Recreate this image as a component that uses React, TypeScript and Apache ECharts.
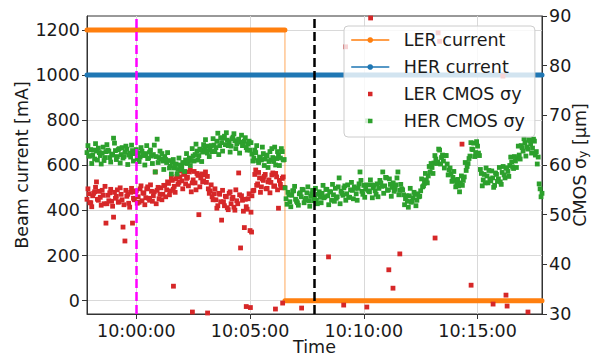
import React, { useEffect, useRef } from 'react';
import * as echarts from 'echarts';

// Time axis: seconds relative to 10:00:00.
const T_START = -130; // 09:57:50
const T_END = 1070; // 10:17:50

const TIME_TICKS = [0, 300, 600, 900];
const TIME_TICK_LABELS = ['10:00:00', '10:05:00', '10:10:00', '10:15:00'];
const CURRENT_TICKS = [0, 200, 400, 600, 800, 1000, 1200];
const SIGMA_TICKS = [30, 40, 50, 60, 70, 80, 90];

// Beam currents (mA), piecewise constant.
const LER_CURRENT_LEVELS = [
  { from: -130, to: 392, mA: 1200 },
  { from: 392, to: 1070, mA: 0 },
];
const HER_CURRENT_LEVELS = [{ from: -130, to: 1070, mA: 1000 }];

// Event markers (s)
const INJECTION_TIME = 0;
const ABORT_TIME = 470;

// CMOS vertical beam size (μm). Two interleaved readouts, each one sample
// every 5 s: the first starts at 09:57:50, the second 2.5 s later.
const SIGMA_SAMPLE_START = -130;
const SIGMA_SAMPLE_STEP = 5;
const SIGMA_SECOND_OFFSET = 2.5;

const HER_SIGMA = [
  62.5, 61.8, 63.1, 62.0, 61.2, 62.8, 63.4, 61.9, 62.4, 60.9, 62.7, 63.0, 61.5, 62.2, 65.4, 62.9, 61.7, 63.3, 62.1, 61.4, 62.6, 63.2, 62.0, 61.6, 62.9, 62.3, 63.1,
  62.4, 61.6, 62.8, 61.9, 62.3, 61.3, 62.6, 61.8, 62.1, 58.6, 65.2, 61.5,
  61.2, 60.8, 61.7, 60.5, 60.9, 59.8, 60.6, 59.4, 60.2, 59.1, 60.0, 59.6,
  60.4, 61.0, 60.3, 61.4, 60.9, 61.8,
  62.1, 62.8, 61.9, 63.0, 62.6, 63.4, 62.9, 63.8, 63.1, 62.7, 64.0, 63.5, 66.4, 63.9,
  64.5, 65.4, 64.1, 65.0, 64.7, 63.8, 65.6, 64.9, 64.3, 65.2, 64.6, 63.9, 64.8, 63.5, 64.2,
  63.0, 62.2, 61.4, 62.5, 60.9, 61.6, 61.0, 62.3, 61.2, 61.8, 60.7, 61.0, 61.5, 63.6, 61.3,
  62.0, 61.4, 62.7, 61.1,
  53.2, 54.5, 52.6, 53.9, 54.8, 53.1, 52.4, 54.2, 53.6, 55.0, 53.0, 54.4, 52.8, 53.7, 54.9, 53.3, 52.9, 54.1, 53.5,
  54.3, 53.4, 55.1, 53.8, 54.6, 52.9, 54.0, 55.3, 53.6, 57.4, 54.7, 53.9, 55.8, 54.2, 53.5, 55.0,
  54.9, 55.6, 54.2, 55.3, 58.6, 54.7, 55.9, 55.1, 68.9, 54.6, 56.0, 55.4, 54.8, 56.2,
  55.3, 56.4, 58.6, 55.8, 57.4, 55.0, 56.1, 55.5, 54.7, 56.0, 58.6, 54.9, 55.2,
  54.0, 53.2, 52.7, 53.8, 52.5, 53.4, 54.1, 52.9, 53.6,
  54.8, 55.6, 56.3, 57.0, 57.8, 58.6,
  59.5, 60.4, 61.2, 60.6, 63.0, 61.5, 60.8, 61.9,
  60.2, 59.0, 58.2, 57.5, 56.9, 56.3, 55.8,
  56.4, 55.9, 57.6, 58.9, 60.3,
  61.8, 63.2, 64.4, 62.5, 63.8, 61.9,
  58.3, 57.0, 56.4, 57.8, 58.9, 56.8, 57.4, 55.9, 58.1, 57.2, 56.6, 58.5,
  58.0, 59.4, 58.7, 59.9, 60.6, 59.3, 60.8, 61.4,
  62.0, 63.9, 62.8, 64.5, 63.6, 65.1, 64.2, 63.4, 64.8, 62.7, 61.6,
  55.2, 54.3,
];

const HER_SIGMA_SECOND = [
  63.9, 61.8, 60.3, 63.0, 64.3, 61.0, 62.5, 60.2, 63.6, 61.5, 64.1, 62.8, 60.6, 62.0, 64.4, 61.1, 63.1, 60.4, 63.5, 61.7, 63.8, 60.1, 62.4, 64.0, 60.8, 62.7, 61.3,
  60.7, 63.5, 62.2, 60.0, 63.9, 61.4, 63.0, 60.3, 64.0, 61.7, 60.5, 62.8,
  62.3, 59.1, 61.1, 62.5, 59.4, 58.2, 61.1, 60.0, 58.2, 61.4, 59.1, 60.5,
  58.7, 62.3, 61.0, 59.9, 63.3, 60.8,
  64.2, 61.0, 63.2, 60.7, 64.1, 65.1, 62.4, 61.7, 63.9, 65.3, 62.7, 64.8, 62.1, 65.5,
  62.8, 65.8, 66.5, 63.9, 62.6, 65.3, 66.3, 63.3, 64.7, 62.4, 66.0, 64.1, 65.5, 63.0, 64.8,
  64.5, 60.8, 63.0, 63.9, 60.5, 61.5, 63.6, 59.9, 62.0, 59.5, 62.7, 63.3, 60.7, 60.0, 62.7,
  59.9, 63.3, 61.0,
  55.4, 52.1, 54.0, 51.6, 54.8, 55.7, 52.7, 51.9, 54.4, 55.1, 52.4, 53.3, 55.6, 51.7, 54.2, 52.8, 55.3, 52.2, 54.6,
  52.4, 55.9, 53.6, 55.1, 52.0, 54.6, 56.1, 52.7, 53.3, 55.6, 52.2, 54.3, 55.4, 52.9, 56.0, 53.5,
  56.5, 53.2, 55.3, 52.9, 56.2, 56.9, 54.1, 53.5, 56.0, 54.8, 57.0, 53.4, 55.9, 54.1,
  53.6, 56.9, 55.7, 54.3, 57.5, 54.9, 57.2, 53.7, 56.4, 55.1, 57.4, 54.0, 56.1,
  55.0, 52.0, 53.8, 51.5, 55.3, 52.7, 54.5, 51.8, 54.2,
  53.7, 57.2, 55.8, 58.3, 56.4, 59.7,
  60.3, 58.3, 61.9, 60.3, 63.2, 60.2, 62.0, 59.4,
  61.9, 58.0, 59.4, 56.7, 58.7, 55.6, 57.1,
  54.6, 57.8, 56.9, 60.5, 59.7,
  61.3, 64.5, 63.1, 61.7, 64.7, 62.4,
  59.1, 55.8, 58.1, 59.4, 56.4, 57.2, 58.8, 55.5, 58.4, 56.7, 59.5, 56.1,
  59.7, 57.4, 59.4, 57.7, 61.6, 59.6, 61.7, 59.5,
  63.8, 61.2, 63.5, 65.3, 61.8, 63.2, 64.9, 62.4, 65.2, 62.0, 60.2,
  56.2, 53.6,
];

const LER_SIGMA = [
  53.1, 54.2, 52.4, 53.8, 54.6, 56.6, 52.9, 53.5, 54.9, 52.2, 48.3, 53.9, 54.4, 52.7, 49.5, 53.3, 55.0, 52.6, 54.1, 47.5, 44.7, 53.7, 52.3, 54.5, 48.3, 53.0, 54.8,
  53.6, 55.2, 52.8, 54.3, 53.4, 55.6, 52.9, 54.7, 53.8, 58.6, 54.9, 53.2, 55.4, 54.1, 55.9,
  55.0, 56.3, 54.8, 56.9, 55.7, 57.2, 56.1, 57.6,
  56.8, 58.1, 56.2, 57.5, 58.6, 54.6, 57.0, 56.4, 58.3, 50.0, 57.4, 56.6, 58.0,
  56.5, 55.2, 54.8, 53.6, 54.2,
  53.0, 51.8, 54.1, 48.9, 52.6, 53.7, 51.4, 54.3, 52.2, 53.5, 50.9, 52.8, 58.4,
  43.3, 52.9, 47.4, 51.6, 53.2, 46.8,
  53.8, 54.9, 59.0, 56.2, 57.4, 55.6, 56.9, 58.1, 55.3, 57.0, 56.5, 58.4, 55.8, 57.6, 51.3, 56.1, 57.3, 55.5,
];

const LER_SIGMA_SECOND = [
  55.2, 52.4, 51.6, 54.3, 55.5, 53.1, 54.7, 51.9, 53.9, 55.7, 52.2, 52.8, 55.1, 51.7, 54.5, 53.7, 52.5, 55.4, 53.0, 52.0, 54.9, 54.1, 51.5, 55.3, 53.3, 54.6, 52.3,
  52.5, 55.8, 54.4, 52.0, 55.2, 53.3, 56.0, 52.7, 54.6, 52.2, 55.5, 54.1, 53.0, 55.9, 53.6,
  56.6, 54.0, 57.5, 55.1, 54.5, 57.7, 56.5, 58.8,
  55.2, 58.4, 57.3, 55.8, 59.0, 56.4, 58.7, 55.0, 57.9, 55.6, 58.2, 56.8, 58.6,
  57.7, 54.3, 56.0, 53.0, 55.2,
  51.3, 54.3, 52.6, 54.9, 51.8, 53.6, 51.0, 54.6, 53.2, 51.5, 55.0, 52.2, 54.0,
  53.8, 50.7, 53.1, 51.1, 54.2, 50.5,
  54.8, 58.1, 55.9, 58.5, 54.5, 57.2, 57.7, 55.2, 56.6, 54.4, 58.0, 55.7, 58.3, 55.0, 56.9, 55.4, 57.6,
];

// Sporadic LER readings [s, μm]
const LER_SIGMA_OUTLIERS = [
  [98, 35.6], [148, 30.4], [188, 30.2], [290, 31.5], [301, 31.3], [304, 46.5], [367, 31.0], [386, 32.2],
  [436, 31.2], [507, 41.5], [547, 31.8], [552, 83.8], [608, 31.4], [618, 89.6], [666, 38.9], [677, 35.2],
  [695, 42.1], [788, 45.3], [796, 86.6], [800, 84.9], [859, 64.2], [883, 35.8], [941, 32.0], [967, 77.9],
  [975, 33.8], [978, 31.6], [1033, 30.4],
];

const FONT = 'DejaVu Sans';
const TEXT = '#1a1a1a';
const FRAME = '#333333';
const GRID_LINE = '#d9d9d9';
const FS = 17.5;

const ORANGE = '#ff7f0e';
const BLUE = '#1f77b4';
const RED = '#d62728';
const GREEN = '#2ca02c';

const SQUARE_ICON = 'path://M0,0M10,10M1.8,1.8h6.4v6.4h-6.4z';

type Level = { from: number; to: number; mA: number };

function levelsToLine(levels: Level[]) {
  const out: any[] = [];
  levels.forEach((seg, i) => {
    if (i > 0) out.push(['-', '-']);
    out.push([seg.from, seg.mA], [seg.to, seg.mA]);
  });
  return out;
}

function levelSteps(levels: Level[]) {
  const out: any[] = [];
  for (let i = 1; i < levels.length; i++) {
    if (out.length) out.push(['-', '-']);
    out.push([levels[i - 1].to, levels[i - 1].mA], [levels[i].from, levels[i].mA]);
  }
  return out;
}

function sampled(values: number[], offset = 0) {
  return values.map((v, i) => [SIGMA_SAMPLE_START + offset + i * SIGMA_SAMPLE_STEP, v]);
}

function timeLabel(v: number) {
  const i = TIME_TICKS.indexOf(Math.round(v));
  return i >= 0 ? TIME_TICK_LABELS[i] : '';
}

export default function App() {
  const ref = useRef<HTMLDivElement>(null);

  useEffect(() => {
    if (!ref.current) return;
    const chart = echarts.init(ref.current, undefined, { renderer: 'svg' });

    const labelStyle = { fontSize: FS, fontFamily: FONT, color: TEXT };

    chart.setOption({
      animation: false,
      backgroundColor: '#ffffff',
      grid: {
        left: 87,
        right: 51,
        top: 16,
        bottom: 42,
        containLabel: false,
        outerBoundsMode: 'none',
        show: true,
        borderColor: FRAME,
        borderWidth: 1,
        backgroundColor: 'transparent',
      },
      legend: {
        orient: 'vertical',
        left: 344,
        top: 26,
        padding: [4, 10, 6, 7],
        itemGap: 7,
        itemWidth: 37,
        itemHeight: 7,
        backgroundColor: 'rgba(255,255,255,0.8)',
        borderColor: '#cccccc',
        borderWidth: 1,
        borderRadius: 4,
        lineStyle: { width: 1.5 },
        textStyle: { ...labelStyle, lineHeight: 20, padding: [0, 0, 0, 10] },
        data: [
          { name: 'LER current' },
          { name: 'HER current' },
          { name: 'LER CMOS σy', icon: SQUARE_ICON },
          { name: 'HER CMOS σy', icon: SQUARE_ICON },
        ],
      },
      xAxis: {
        type: 'value',
        min: T_START,
        max: T_END,
        splitNumber: 4,
        name: 'Time',
        nameLocation: 'middle',
        nameGap: 24,
        nameMoveOverlap: false,
        nameTextStyle: labelStyle,
        axisLine: { show: true, onZero: false, lineStyle: { color: FRAME, width: 1 } },
        axisTick: { show: true, length: 5, customValues: TIME_TICKS, lineStyle: { color: FRAME } },
        axisLabel: {
          ...labelStyle,
          margin: 8,
          customValues: TIME_TICKS,
          formatter: timeLabel,
        },
        splitLine: { show: true, lineStyle: { color: GRID_LINE, width: 1 } },
      },
      yAxis: [
        {
          type: 'value',
          position: 'left',
          min: -59,
          max: 1262,
          splitNumber: 7,
          name: 'Beam current [mA]',
          nameLocation: 'middle',
          nameGap: 56,
          nameRotate: 90,
          nameMoveOverlap: false,
          nameTextStyle: labelStyle,
          axisLine: { show: true, onZero: false, lineStyle: { color: FRAME, width: 1 } },
          axisTick: { show: true, length: 5, customValues: CURRENT_TICKS, lineStyle: { color: FRAME } },
          axisLabel: {
            ...labelStyle,
            margin: 7,
            customValues: CURRENT_TICKS,
            formatter: (v: number) => String(Math.round(v)),
          },
          splitLine: { show: true, lineStyle: { color: GRID_LINE, width: 1 } },
        },
        {
          type: 'value',
          position: 'right',
          min: 30,
          max: 90,
          interval: 10,
          name: '{a|CMOS σ}{s|y}{a| [μm]}',
          nameLocation: 'middle',
          nameGap: 25,
          nameRotate: 90,
          nameMoveOverlap: false,
          nameTextStyle: {
            ...labelStyle,
            rich: {
              a: { ...labelStyle, lineHeight: 22, verticalAlign: 'bottom' },
              s: { fontSize: 12.5, fontFamily: FONT, color: TEXT, lineHeight: 12, verticalAlign: 'bottom' },
            },
          },
          axisLine: { show: true, onZero: false, lineStyle: { color: FRAME, width: 1 } },
          axisTick: { show: true, length: 5, customValues: SIGMA_TICKS, lineStyle: { color: FRAME } },
          axisLabel: { ...labelStyle, margin: 7, customValues: SIGMA_TICKS },
          splitLine: { show: false },
        },
      ],
      series: [
        {
          name: 'LER current step',
          type: 'line',
          yAxisIndex: 0,
          data: levelSteps(LER_CURRENT_LEVELS),
          symbol: 'none',
          lineStyle: { color: ORANGE, width: 1.5, opacity: 0.45 },
          z: 2,
          silent: true,
        },
        {
          name: 'LER current',
          type: 'line',
          yAxisIndex: 0,
          data: levelsToLine(LER_CURRENT_LEVELS),
          symbol: 'none',
          itemStyle: { color: ORANGE },
          lineStyle: { color: ORANGE, width: 5, cap: 'round' },
          z: 2,
        },
        {
          name: 'HER current',
          type: 'line',
          yAxisIndex: 0,
          data: levelsToLine(HER_CURRENT_LEVELS),
          symbol: 'none',
          itemStyle: { color: BLUE },
          lineStyle: { color: BLUE, width: 5, cap: 'round' },
          z: 2,
        },
        {
          name: 'LER CMOS σy',
          type: 'scatter',
          yAxisIndex: 1,
          data: sampled(LER_SIGMA)
            .concat(sampled(LER_SIGMA_SECOND, SIGMA_SECOND_OFFSET))
            .concat(LER_SIGMA_OUTLIERS),
          symbol: 'rect',
          symbolSize: 4.8,
          itemStyle: { color: RED, opacity: 1 },
          z: 3,
        },
        {
          name: 'HER CMOS σy',
          type: 'scatter',
          yAxisIndex: 1,
          data: sampled(HER_SIGMA).concat(sampled(HER_SIGMA_SECOND, SIGMA_SECOND_OFFSET)),
          symbol: 'rect',
          symbolSize: 4.8,
          itemStyle: { color: GREEN, opacity: 1 },
          z: 3,
          markLine: {
            silent: true,
            symbol: ['none', 'none'],
            label: { show: false },
            z: 5,
            data: [
              { xAxis: INJECTION_TIME, lineStyle: { color: '#ff00ff', width: 2.5, type: [9, 4] } },
              { xAxis: ABORT_TIME, lineStyle: { color: '#000000', width: 2.5, type: [9, 4] } },
            ],
          },
        },
      ],
    });

    return () => chart.dispose();
  }, []);

  return (
    <div
      ref={ref}
      style={{ position: 'fixed', left: 0, top: 0, width: 593, height: 356, background: '#fff' }}
    />
  );
}
